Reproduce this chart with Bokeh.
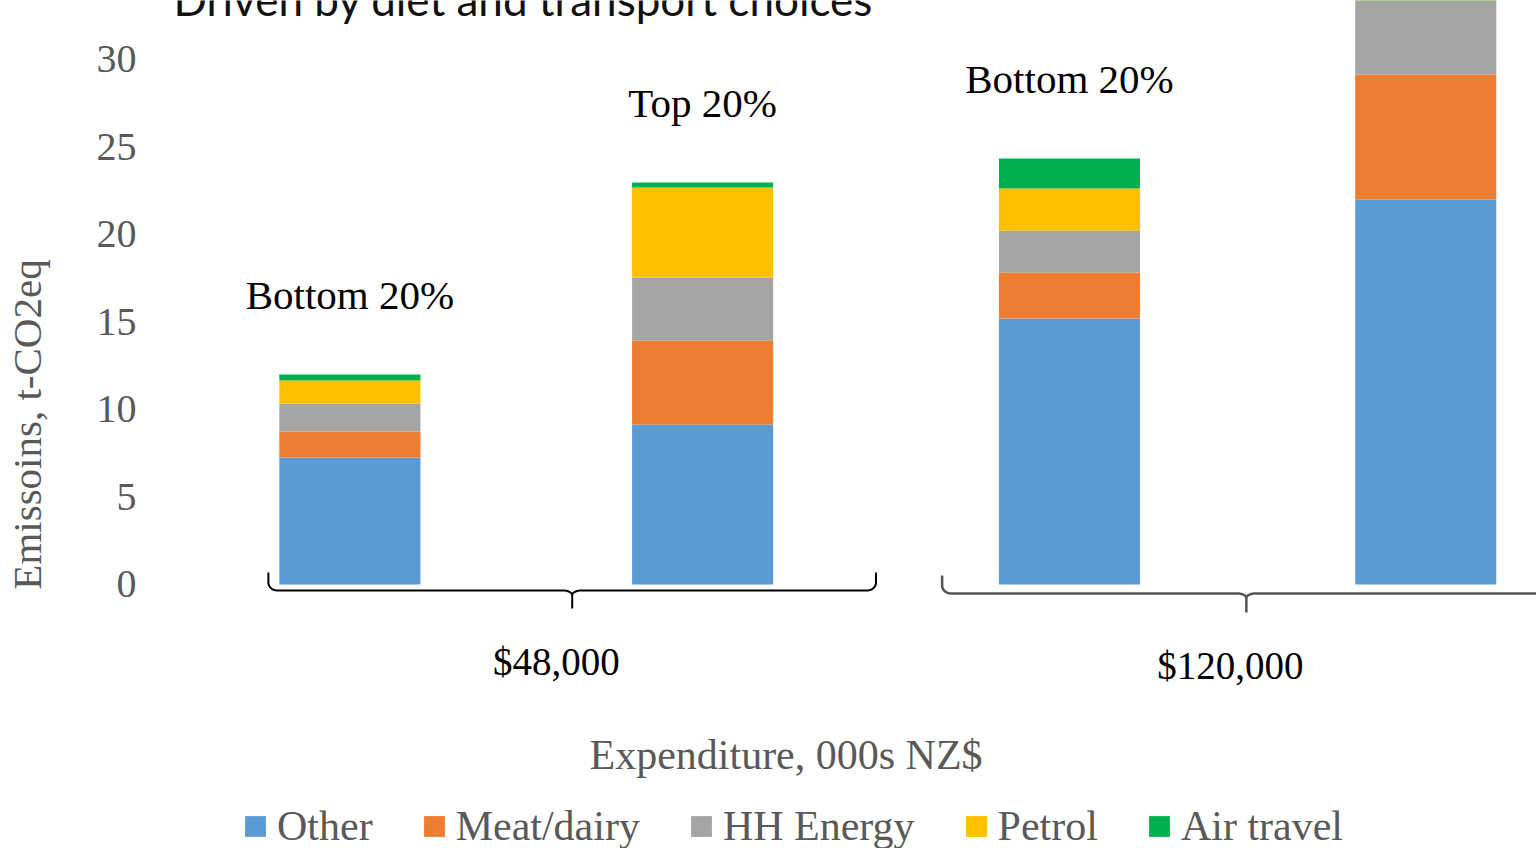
import numpy as np
from math import pi
from bokeh.plotting import figure
from bokeh.models import Range1d, FixedTicker, Label, Legend, LegendItem, ColumnDataSource
from bokeh.embed import file_html
from bokeh.resources import INLINE
from bokeh.core.properties import value

# ---------------- data ----------------
bar_labels = ["Bottom 20%", "Top 20%", "Bottom 20%", "Top 20%"]
group_labels = ["$48,000", "$120,000"]
positions = [1.0, 2.0, 3.04, 4.05]
series = ["Other", "Meat/dairy", "HH Energy", "Petrol", "Air travel"]
colors = ["#5B9BD5", "#ED7D31", "#A5A5A5", "#FFC000", "#00B050"]
other = [7.26, 9.14, 15.2, 22.0]
meat = [1.48, 4.80, 2.63, 7.14]
hh_energy = [1.60, 3.60, 2.40, 4.6]
petrol = [1.32, 5.15, 2.40, 5.0]
air = [0.34, 0.28, 1.71, 2.5]
y_ticks = [0, 5, 10, 15, 20, 25, 30]
title_text = "Driven by diet and transport choices"
y_title = "Emissoins, t-CO2eq"
x_title = "Expenditure, 000s NZ$"

SERIF = "Liberation Serif"
GRAY = "#595959"

values = [other, meat, hh_energy, petrol, air]
totals = [sum(v[i] for v in values) for i in range(len(positions))]

src = ColumnDataSource(dict(x=positions, **{s: v for s, v in zip(series, values)}))

Y0, Y1 = -15.086, 33.371
p = figure(width=1536, height=848, output_backend="svg", toolbar_location=None,
           x_range=Range1d(0.4603, 4.364), y_range=Range1d(Y0, Y1),
           x_axis_location=None, min_border_left=158, min_border_right=0,
           min_border_top=0, min_border_bottom=0)
p.outline_line_color = None
p.grid.visible = False
p.background_fill_color = "white"
p.border_fill_color = "white"

renderers = p.vbar_stack(series, x="x", width=0.40, color=colors, line_color=None, source=src)

# y axis
ax = p.yaxis[0]
ax.ticker = FixedTicker(ticks=y_ticks)
ax.axis_line_color = None
ax.major_tick_line_color = None
ax.minor_tick_line_color = None
ax.major_tick_out = 0
ax.major_tick_in = 0
ax.major_label_standoff = 23
ax.major_label_text_font = SERIF
ax.major_label_text_font_size = "40px"
ax.major_label_text_color = GRAY
ax.axis_label = y_title
ax.axis_label_align = "center"
ax.axis_label_standoff = 44
ax.axis_label_text_font = SERIF
ax.axis_label_text_font_size = "41px"
ax.axis_label_text_font_style = "normal"
ax.axis_label_text_color = GRAY

# bar annotations (only those inside the visible range)
lab = [(x, t + 4.57, s) for x, t, s in zip(positions, totals, bar_labels) if t + 4.57 < Y1 - 1]
lab_src = ColumnDataSource(dict(x=[a[0] for a in lab], y=[a[1] for a in lab], text=[a[2] for a in lab]))
p.text(x="x", y="y", text="text", source=lab_src, text_font=value(SERIF),
       text_font_size="41px", text_align="center", text_baseline="middle", text_color="black")

# braces
def brace(x0, x1, ybar, ytop, ytip, rx=0.025, ry=0.45):
    xm = (x0 + x1) / 2
    t = np.linspace(0, pi / 2, 8)
    xs, ys = [x0], [ytop]
    xs += list(x0 + rx - rx * np.cos(t)); ys += list(ybar + ry - ry * np.sin(t))
    xs += list(xm - rx + rx * np.sin(t)); ys += list(ybar - ry * 0.6 * (1 - np.cos(t)))
    xs += [xm, xm]; ys += [ytip, ybar - ry * 0.6]
    xs += list(xm + rx - rx * np.cos(t)); ys += list(ybar - ry * 0.6 * (1 - np.sin(t)))
    xs += list(x1 - rx + rx * np.sin(t)); ys += list(ybar + ry * (1 - np.cos(t)))
    xs += [x1]; ys += [ytop]
    return xs, ys, xm

braces = [
    (positions[0] - 0.231, positions[1] + 0.4915, -0.343, 0.686, -1.371, "black", 2),
    (positions[2] - 0.361, positions[3] + 0.354, -0.514, 0.514, -1.6, "#555555", 2.5),
]
gx, gy = [], []
for (x0, x1, yb, yt, ytip, col, lw) in braces:
    xs, ys, xm = brace(x0, x1, yb, yt, ytip)
    p.line(xs, ys, line_color=col, line_width=lw)
    gx.append(xm - 0.045)
    gy.append(ytip - 3.03)

g_src = ColumnDataSource(dict(x=gx, y=gy, text=group_labels))
p.text(x="x", y="y", text="text", source=g_src, text_font=value(SERIF),
       text_font_size="39px", text_align="center", text_baseline="middle", text_color="black")

# titles
p.add_layout(Label(x=0.5, y=33.45, text=title_text, text_font="Lato", text_font_size="44px",
                   text_align="left", text_baseline="alphabetic", text_color="#111111"))
p.add_layout(Label(x=2.2365, y=-9.77, text=x_title, text_font=SERIF, text_font_size="42px",
                   text_align="center", text_baseline="middle", text_color=GRAY))

legend = Legend(items=[LegendItem(label=s, renderers=[r]) for s, r in zip(series, renderers)],
                orientation="horizontal", location=(83, -2), glyph_width=26, glyph_height=26,
                label_standoff=9, spacing=48, padding=0, margin=0,
                border_line_color=None, background_fill_alpha=0,
                label_text_font=SERIF, label_text_font_size="42px", label_text_color=GRAY,
                label_text_baseline="middle")
p.add_layout(legend)

open("out.html", "w").write(file_html(p, INLINE))
